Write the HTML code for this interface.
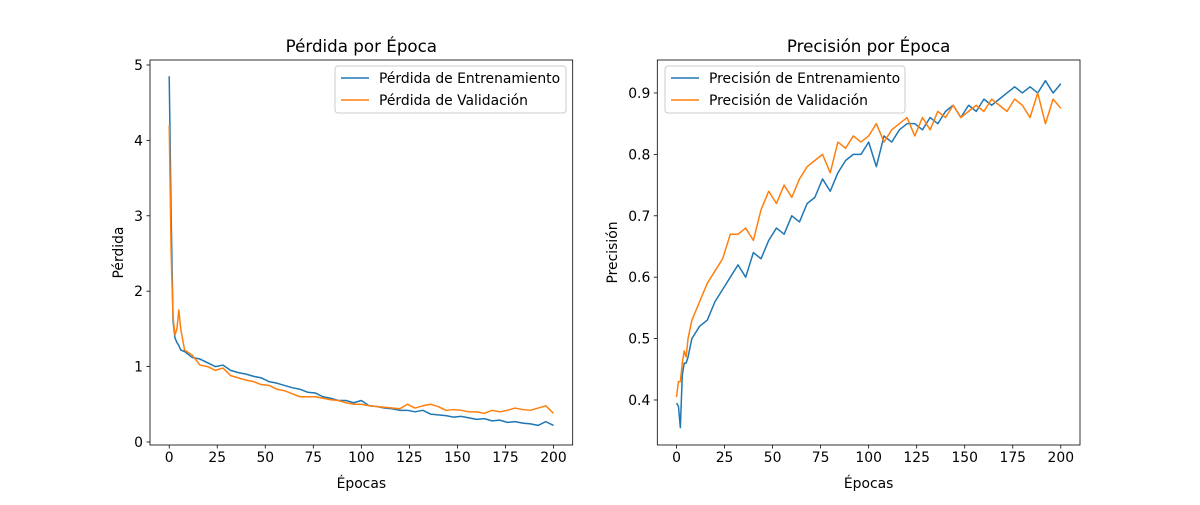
<!DOCTYPE html>
<html><head><meta charset="utf-8"><style>
body{margin:0;background:#fff}
svg{font-family:"DejaVu Sans","Liberation Sans",sans-serif}
</style></head><body>
<svg id="fig" width="1200" height="500" xmlns="http://www.w3.org/2000/svg"></svg>
<script>
const epochs=[0,1,2,3,4,5,6,8,12,16,20,24,28,32,36,40,44,48,52,56,60,64,68,72,76,80,84,88,92,96,100,104,108,112,116,120,124,128,132,136,140,144,148,152,156,160,164,168,172,176,180,184,188,192,196,200];
const lossTrain=[4.85,3.0,1.6,1.38,1.32,1.28,1.22,1.2,1.12,1.1,1.05,1.0,1.02,0.95,0.92,0.9,0.87,0.85,0.8,0.78,0.75,0.72,0.7,0.66,0.65,0.6,0.58,0.55,0.55,0.52,0.55,0.48,0.47,0.45,0.44,0.42,0.42,0.4,0.42,0.37,0.36,0.35,0.33,0.34,0.32,0.3,0.31,0.28,0.29,0.26,0.27,0.25,0.24,0.22,0.27,0.22];
const lossVal=[4.2,2.5,1.65,1.42,1.5,1.75,1.5,1.22,1.15,1.02,1.0,0.95,0.98,0.88,0.85,0.82,0.8,0.76,0.75,0.7,0.68,0.64,0.6,0.6,0.6,0.58,0.56,0.55,0.52,0.5,0.5,0.48,0.47,0.46,0.45,0.44,0.5,0.45,0.48,0.5,0.47,0.42,0.43,0.42,0.4,0.4,0.38,0.42,0.4,0.42,0.45,0.43,0.42,0.45,0.48,0.38];
const accTrain=[0.395,0.39,0.355,0.44,0.46,0.46,0.47,0.5,0.52,0.53,0.56,0.58,0.6,0.62,0.6,0.64,0.63,0.66,0.68,0.67,0.7,0.69,0.72,0.73,0.76,0.74,0.77,0.79,0.8,0.8,0.82,0.78,0.83,0.82,0.84,0.85,0.85,0.84,0.86,0.85,0.87,0.88,0.86,0.88,0.87,0.89,0.88,0.89,0.9,0.91,0.9,0.91,0.9,0.92,0.9,0.915];
const accVal=[0.405,0.43,0.43,0.46,0.48,0.47,0.5,0.53,0.56,0.59,0.61,0.63,0.67,0.67,0.68,0.66,0.71,0.74,0.72,0.75,0.73,0.76,0.78,0.79,0.8,0.77,0.82,0.81,0.83,0.82,0.83,0.85,0.82,0.84,0.85,0.86,0.83,0.86,0.84,0.87,0.86,0.88,0.86,0.87,0.88,0.87,0.89,0.88,0.87,0.89,0.88,0.86,0.9,0.85,0.89,0.875];
const xTicks=[0,25,50,75,100,125,150,175,200];
const lossTicks=[0,1,2,3,4,5];
const accTicks=[0.4,0.5,0.6,0.7,0.8,0.9];

const NS="http://www.w3.org/2000/svg";
const svg=document.getElementById('fig');
function mk(tag,attrs,parent){const e=document.createElementNS(NS,tag);for(const k in attrs)e.setAttribute(k,attrs[k]);(parent||svg).appendChild(e);return e;}
function txt(s,attrs,name){const t=mk('text',attrs);t.textContent=s;


return t;}
const FS=13.9;
function panel(cfg){
  const L=cfg.left,R=cfg.left+422.7,T=60,B=445;
  const xs=e=>L+(e+10)*(R-L)/220;
  const ys=v=>B-(v-cfg.ymin)*(B-T)/(cfg.ymax-cfg.ymin);
  const g=mk('g',{});
  
  
  xTicks.forEach(t=>{const x=xs(t);mk('line',{x1:x,x2:x,y1:B,y2:B+3.5,stroke:'#000','stroke-width':0.8},g);
    txt(String(t),{x:x,y:B+17,'font-size':FS,'text-anchor':'middle'},'x-tick-label');});
  cfg.yticks.forEach(t=>{const y=ys(t);mk('line',{x1:L,x2:L-3.5,y1:y,y2:y,stroke:'#000','stroke-width':0.8},g);
    txt(cfg.fmt(t),{x:L-7,y:y+5,'font-size':FS,'text-anchor':'end'},'y-tick-label');});
  const series=[[cfg.a,'#1f77b4','train-line'],[cfg.b,'#ff7f0e','validation-line']];
  series.forEach(([arr,c,n])=>{const p=mk('polyline',{points:arr.map((v,i)=>xs(epochs[i])+','+ys(v)).join(' '),fill:'none',stroke:c,'stroke-width':1.5,'stroke-linejoin':'round'},g);
    
    });
  const fr=mk('rect',{x:L,y:T,width:R-L,height:B-T,fill:'none',stroke:'#000','stroke-width':0.8},g);
  
  
  txt(cfg.title,{x:(L+R)/2,y:T-8,'font-size':16.7,'text-anchor':'middle'},'chart-title');
  txt('Épocas',{x:(L+R)/2,y:488,'font-size':FS,'text-anchor':'middle'},'x-axis-title');
  txt(cfg.ylabel,{x:0,y:0,'font-size':FS,'text-anchor':'middle',transform:`translate(${cfg.ylx},${(T+B)/2}) rotate(-90)`},'y-axis-title');
  const lg=mk('g',{});
  
  
  mk('rect',{x:cfg.lgx,y:66,width:cfg.lgw,height:47,rx:3,fill:'#fff','fill-opacity':0.8,stroke:'#ccc','stroke-width':1},lg);
  cfg.labels.forEach((s,i)=>{const y=78+i*22;
    mk('line',{x1:cfg.lgx+6,x2:cfg.lgx+34,y1:y,y2:y,stroke:i?'#ff7f0e':'#1f77b4','stroke-width':1.5},lg);
    txt(s,{x:cfg.lgx+44,y:y+5,'font-size':FS},'legend-entry');});
}
panel({name:'loss-chart',left:150,ymin:-0.04,ymax:5.066,yticks:lossTicks,fmt:t=>String(t),a:lossTrain,b:lossVal,title:'Pérdida por Época',ylabel:'Pérdida',ylx:123,lgx:335,lgw:231,labels:['Pérdida de Entrenamiento','Pérdida de Validación']});
panel({name:'accuracy-chart',left:657.3,ymin:0.3267,ymax:0.9537,yticks:accTicks,fmt:t=>t.toFixed(1),a:accTrain,b:accVal,title:'Precisión por Época',ylabel:'Precisión',ylx:617,lgx:665,lgw:240,labels:['Precisión de Entrenamiento','Precisión de Validación']});
</script>
</body></html>
